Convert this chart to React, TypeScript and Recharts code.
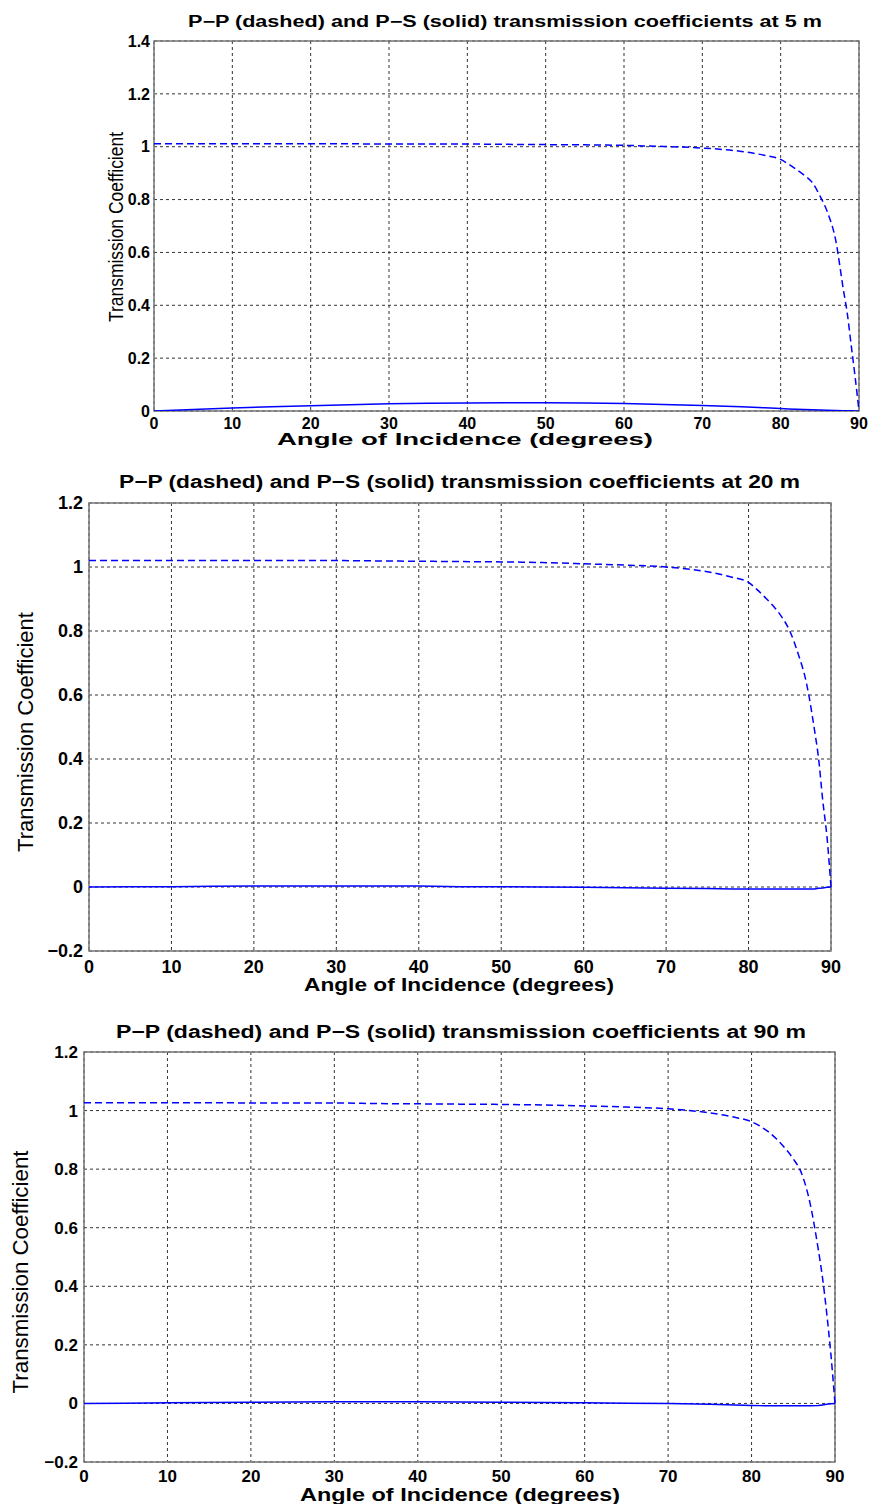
import { LineChart, Line, XAxis, YAxis, CartesianGrid, ReferenceArea } from "recharts";

const FONT = '"Liberation Sans", Arial, Helvetica, sans-serif';
const BLUE = "#0000ff";

const angles = [0, 5, 10, 15, 20, 25, 30, 35, 40, 45, 50, 55, 60, 65, 70, 75, 78, 80, 81, 82, 83, 84, 85, 86, 87, 88, 88.5, 89, 89.5, 90];

// P-P (dashed) / P-S (solid) at 5 m
const pp5 = [1.011, 1.011, 1.011, 1.011, 1.011, 1.011, 1.01, 1.01, 1.01, 1.009, 1.008, 1.007, 1.005, 1.001, 0.995, 0.982, 0.967, 0.952, 0.934, 0.914, 0.892, 0.866, 0.815, 0.75, 0.65, 0.46, 0.37, 0.25, 0.13, 0];
const ps5 = [0, 0.006, 0.011, 0.016, 0.02, 0.024, 0.027, 0.029, 0.03, 0.031, 0.031, 0.03, 0.028, 0.025, 0.021, 0.016, 0.012, 0.009, 0.008, 0.007, 0.006, 0.005, 0.004, 0.003, 0.002, 0.001, 0.001, 0.0005, 0, 0];

// 20 m
const pp20 = [1.02, 1.02, 1.02, 1.02, 1.02, 1.02, 1.02, 1.019, 1.018, 1.017, 1.016, 1.014, 1.01, 1.006, 1.0, 0.985, 0.968, 0.952, 0.93, 0.905, 0.878, 0.845, 0.8, 0.73, 0.64, 0.49, 0.4, 0.27, 0.16, 0];
const ps20 = [0, 0.0005, 0.001, 0.002, 0.003, 0.003, 0.003, 0.003, 0.003, 0.001, 0.0005, 0, -0.001, -0.002, -0.004, -0.005, -0.006, -0.006, -0.006, -0.006, -0.006, -0.006, -0.006, -0.006, -0.006, -0.006, -0.004, -0.003, -0.001, 0];

// 90 m
const pp90 = [1.027, 1.027, 1.027, 1.027, 1.026, 1.026, 1.026, 1.024, 1.023, 1.022, 1.021, 1.019, 1.016, 1.012, 1.006, 0.992, 0.977, 0.962, 0.947, 0.928, 0.903, 0.872, 0.835, 0.785, 0.685, 0.525, 0.43, 0.31, 0.17, 0];
const ps90 = [0, 0.001, 0.002, 0.003, 0.004, 0.005, 0.006, 0.006, 0.006, 0.005, 0.004, 0.003, 0.002, 0.001, 0, -0.003, -0.005, -0.007, -0.0075, -0.008, -0.008, -0.008, -0.008, -0.008, -0.008, -0.007, -0.005, -0.003, -0.001, 0];

const xTicks = [0, 10, 20, 30, 40, 50, 60, 70, 80, 90];
const yTicks5 = [0, 0.2, 0.4, 0.6, 0.8, 1, 1.2, 1.4];
const yTicksDeep = [-0.2, 0, 0.2, 0.4, 0.6, 0.8, 1, 1.2];

const title5 = "P\u2212P (dashed) and P\u2212S (solid) transmission coefficients at 5 m";
const title20 = "P\u2212P (dashed) and P\u2212S (solid) transmission coefficients at 20 m";
const title90 = "P\u2212P (dashed) and P\u2212S (solid) transmission coefficients at 90 m";
const xLabel = "Angle of Incidence (degrees)";
const yLabel = "Transmission Coefficient";

function fmt(v: number) {
  return String(Math.round(v * 10) / 10).replace("-", "\u2212");
}

interface Span {
  x1: number;
  x2: number;
  y: number;
  size: number;
}

interface PanelProps {
  top: number;
  height: number;
  plot: { l: number; t: number; r: number; b: number };
  title: string;
  pp: number[];
  ps: number[];
  yDomain: [number, number];
  yTicks: number[];
  tickFont: number;
  gapX: number;
  gapY: number;
  titleSpan: Span;
  xLabelSpan: Span;
  yLabelPos: { x: number; cy: number; len: number; size: number };
}

function Panel(p: PanelProps) {
  const rows = angles.map((a, i) => ({ angle: a, pp: p.pp[i], ps: p.ps[i] }));
  const yW = 50;
  const xH = 40;
  const margin = {
    top: p.plot.t - p.top,
    left: p.plot.l - yW,
    right: 872 - p.plot.r,
    bottom: p.top + p.height - p.plot.b - xH,
  };
  const tickStyle = { fill: "#000", fontSize: p.tickFont, fontWeight: "bold", fontFamily: FONT };
  const t = p.titleSpan;
  const xl = p.xLabelSpan;
  const yl = p.yLabelPos;

  return (
    <div style={{ position: "absolute", left: 0, top: p.top }}>
      <LineChart width={872} height={p.height} data={rows} margin={margin}>
        <CartesianGrid stroke="#333" strokeDasharray="3 3" />
        <XAxis
          dataKey="angle"
          type="number"
          domain={[0, 90]}
          ticks={xTicks}
          interval={0}
          height={xH}
          tickSize={0}
          tickMargin={p.gapX}
          axisLine={false}
          tick={tickStyle}
        />
        <YAxis
          type="number"
          domain={p.yDomain}
          ticks={p.yTicks}
          interval={0}
          width={yW}
          tickSize={0}
          tickMargin={p.gapY}
          axisLine={false}
          tickFormatter={fmt}
          tick={tickStyle}
          allowDataOverflow
        />
        <ReferenceArea x1={0} x2={90} y1={p.yDomain[0]} y2={p.yDomain[1]} fill="none" stroke="#777" strokeWidth={1.5} />
        <Line type="monotone" dataKey="pp" stroke={BLUE} strokeWidth={1.5} strokeDasharray="7 4" dot={false} isAnimationActive={false} />
        <Line type="linear" dataKey="ps" stroke={BLUE} strokeWidth={1.5} dot={false} isAnimationActive={false} />
        <text
          x={(t.x1 + t.x2) / 2}
          y={t.y - p.top}
          textAnchor="middle"
          fontFamily={FONT}
          fontWeight="bold"
          fontSize={t.size}
          textLength={t.x2 - t.x1}
          lengthAdjust="spacingAndGlyphs"
          fill="#000"
        >
          {p.title}
        </text>
        <text
          x={(xl.x1 + xl.x2) / 2}
          y={xl.y - p.top}
          textAnchor="middle"
          fontFamily={FONT}
          fontWeight="bold"
          fontSize={xl.size}
          textLength={xl.x2 - xl.x1}
          lengthAdjust="spacingAndGlyphs"
          fill="#000"
        >
          {xLabel}
        </text>
        <text
          transform={`translate(${yl.x},${yl.cy - p.top}) rotate(-90)`}
          textAnchor="middle"
          fontFamily={FONT}
          fontSize={yl.size}
          textLength={yl.len}
          lengthAdjust="spacingAndGlyphs"
          fill="#000"
        >
          {yLabel}
        </text>
      </LineChart>
    </div>
  );
}

export default function App() {
  return (
    <div style={{ position: "absolute", left: 0, top: 0, width: 872, height: 1504, background: "#fff" }}>
      <Panel
        top={0}
        height={460}
        plot={{ l: 154, t: 41, r: 859, b: 411 }}
        title={title5}
        pp={pp5}
        ps={ps5}
        yDomain={[0, 1.4]}
        yTicks={yTicks5}
        tickFont={16}
        gapX={7}
        gapY={4}
        titleSpan={{ x1: 188, x2: 822, y: 27, size: 16 }}
        xLabelSpan={{ x1: 277, x2: 653, y: 445, size: 17 }}
        yLabelPos={{ x: 123, cy: 227, len: 190, size: 20 }}
      />
      <Panel
        top={460}
        height={548}
        plot={{ l: 89, t: 503, r: 831, b: 951 }}
        title={title20}
        pp={pp20}
        ps={ps20}
        yDomain={[-0.2, 1.2]}
        yTicks={yTicksDeep}
        tickFont={18}
        gapX={9}
        gapY={6}
        titleSpan={{ x1: 119, x2: 800, y: 488, size: 18 }}
        xLabelSpan={{ x1: 304, x2: 614, y: 991, size: 19 }}
        yLabelPos={{ x: 33, cy: 732, len: 240, size: 22 }}
      />
      <Panel
        top={1008}
        height={496}
        plot={{ l: 84, t: 1052, r: 835, b: 1462 }}
        title={title90}
        pp={pp90}
        ps={ps90}
        yDomain={[-0.2, 1.2]}
        yTicks={yTicksDeep}
        tickFont={17}
        gapX={8}
        gapY={6}
        titleSpan={{ x1: 116, x2: 806, y: 1038, size: 18 }}
        xLabelSpan={{ x1: 300, x2: 620, y: 1501, size: 18 }}
        yLabelPos={{ x: 28, cy: 1272, len: 243, size: 22 }}
      />
    </div>
  );
}
